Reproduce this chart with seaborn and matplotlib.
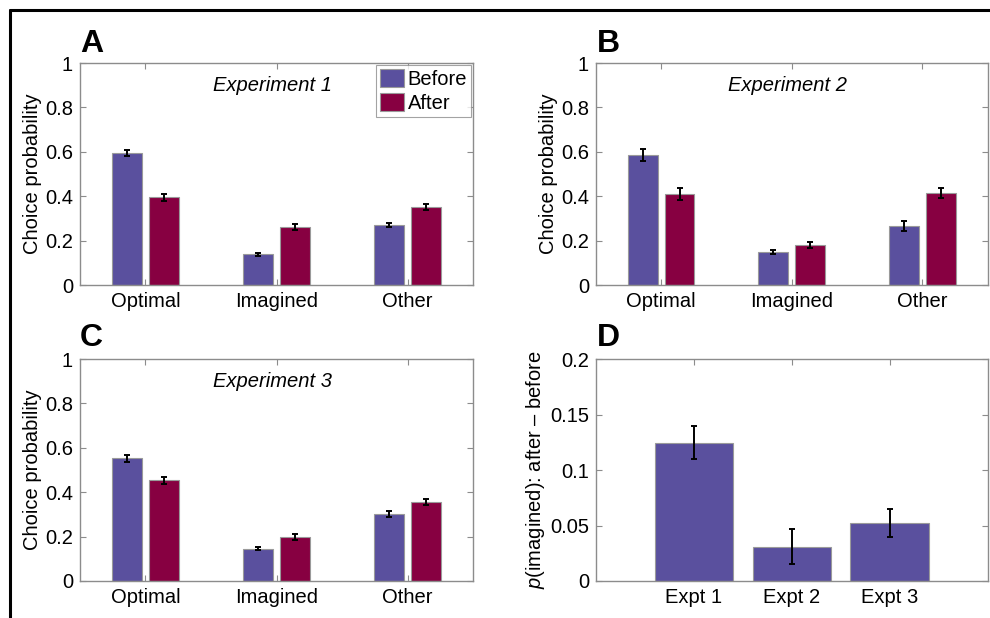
import numpy as np
import pandas as pd
import matplotlib
matplotlib.use("Agg")
import matplotlib.pyplot as plt
from matplotlib.lines import Line2D
import seaborn as sns

# values
choices = ['Optimal', 'Imagined', 'Other']
phases = ['Before', 'After']

exp1_before = [0.595, 0.138, 0.270]
exp1_after = [0.396, 0.262, 0.350]
exp1_before_err = [0.014, 0.007, 0.010]
exp1_after_err = [0.016, 0.012, 0.013]

exp2_before = [0.586, 0.150, 0.266]
exp2_after = [0.410, 0.180, 0.416]
exp2_before_err = [0.027, 0.009, 0.021]
exp2_after_err = [0.028, 0.014, 0.022]

exp3_before = [0.553, 0.146, 0.302]
exp3_after = [0.454, 0.197, 0.356]
exp3_before_err = [0.015, 0.008, 0.012]
exp3_after_err = [0.016, 0.013, 0.014]

expts = ['Expt 1', 'Expt 2', 'Expt 3']
imagined_diff = [0.1248, 0.031, 0.052]
imagined_diff_err = [0.015, 0.0157, 0.0126]

before_color = '#5a509e'
after_color = '#870041'
spine_gray = '#8c8c8c'
fs = 14.5

sns.set_theme(style="white")
plt.rcParams['font.family'] = ['Liberation Sans', 'DejaVu Sans']
plt.rcParams['mathtext.fontset'] = 'custom'
plt.rcParams['mathtext.it'] = 'Liberation Sans:italic'
plt.rcParams['mathtext.rm'] = 'Liberation Sans'
plt.rcParams['text.color'] = 'black'
plt.rcParams['axes.labelcolor'] = 'black'

fig = plt.figure(figsize=(9.9, 6.18), dpi=100)
fig.patch.set_facecolor('white')


def matlab_box(ax):
    for s in ax.spines.values():
        s.set_visible(True)
        s.set_color(spine_gray)
        s.set_linewidth(1.0)
    ax.tick_params(direction='in', length=4, width=0.8, color=spine_gray,
                   top=True, right=True, bottom=True, left=True,
                   labelsize=fs, labelcolor='black', pad=5)


def choice_panel(rect, before, after, before_err, after_err, title, legend=False):
    ax = fig.add_axes(rect)
    df = pd.DataFrame({
        'choice': choices * 2,
        'phase': ['Before'] * 3 + ['After'] * 3,
        'prob': before + after,
    })
    sns.barplot(data=df, x='choice', y='prob', hue='phase', order=choices,
                hue_order=phases, palette=[before_color, after_color],
                width=0.56, gap=0.18, errorbar=None, edgecolor='#9a9a9a',
                linewidth=0.8, saturation=1, legend=legend, ax=ax)
    bars = [p for p in ax.patches][:6]
    xs = [b.get_x() + b.get_width() / 2 for b in bars]
    ys = [b.get_height() for b in bars]
    ax.errorbar(xs, ys, yerr=before_err + after_err, fmt='none', ecolor='black',
                elinewidth=1.4, capsize=2.5, capthick=1.4, zorder=5)
    ax.set_xlim(-0.5, 2.5)
    ax.set_ylim(0, 1)
    ax.set_yticks([0, 0.2, 0.4, 0.6, 0.8, 1])
    ax.set_yticklabels(['0', '0.2', '0.4', '0.6', '0.8', '1'])
    ax.set_xlabel('')
    ax.set_ylabel('Choice probability', fontsize=fs, labelpad=2)
    ax.text(0.49, 0.9, title, transform=ax.transAxes, ha='center', va='center',
            fontsize=fs, style='italic', color='black')
    matlab_box(ax)
    if legend:
        handles, labels = ax.get_legend_handles_labels()
        leg = ax.legend(handles, labels, loc='upper right', fontsize=fs,
                        frameon=True, fancybox=False, borderpad=0.2,
                        handlelength=1.2, handleheight=1.0, handletextpad=0.15,
                        labelspacing=0.2, borderaxespad=0.1)
        leg.get_frame().set_edgecolor(spine_gray)
        leg.get_frame().set_linewidth(0.8)
        for t in leg.get_texts():
            t.set_color('black')
    return ax


axA = choice_panel([0.0808, 0.5388, 0.397, 0.3592], exp1_before, exp1_after,
                   exp1_before_err, exp1_after_err, 'Experiment 1', legend=True)
axB = choice_panel([0.602, 0.5388, 0.3955, 0.3592], exp2_before, exp2_after,
                   exp2_before_err, exp2_after_err, 'Experiment 2')
axC = choice_panel([0.0808, 0.0599, 0.397, 0.3590], exp3_before, exp3_after,
                   exp3_before_err, exp3_after_err, 'Experiment 3')

# panel D: change in p(imagined)
axD = fig.add_axes([0.602, 0.0599, 0.3955, 0.3590])
dfD = pd.DataFrame({'expt': expts, 'diff': imagined_diff})
sns.barplot(data=dfD, x='expt', y='diff', color=before_color, width=0.8,
            errorbar=None, edgecolor='#9a9a9a', linewidth=0.8, saturation=1, ax=axD)
xsD = [b.get_x() + b.get_width() / 2 for b in axD.patches]
ysD = [b.get_height() for b in axD.patches]
axD.errorbar(xsD, ysD, yerr=imagined_diff_err, fmt='none', ecolor='black',
             elinewidth=1.4, capsize=2, capthick=1.4, zorder=5)
axD.set_xlim(-1, 3)
axD.set_ylim(0, 0.2)
axD.set_yticks([0, 0.05, 0.1, 0.15, 0.2])
axD.set_yticklabels(['0', '0.05', '0.1', '0.15', '0.2'])
axD.set_xlabel('')
axD.set_ylabel(r'$p$(imagined): after – before', fontsize=fs, labelpad=2)
matlab_box(axD)

# panel letters
for letter, x, y in [('A', 80, 52), ('B', 597, 52), ('C', 80, 346), ('D', 597, 346)]:
    fig.text(x / 990, 1 - y / 618, letter, fontsize=23, fontweight='heavy',
             ha='left', va='baseline', color='black')

# black frame lines on top and left edge
fig.add_artist(Line2D([10 / 990, 1], [1 - 10 / 618, 1 - 10 / 618],
                      transform=fig.transFigure, color='black', linewidth=2.2))
fig.add_artist(Line2D([10 / 990, 10 / 990], [0, 1 - 10 / 618],
                      transform=fig.transFigure, color='black', linewidth=2.2))

fig.savefig('out.png', dpi=100, facecolor='white')
